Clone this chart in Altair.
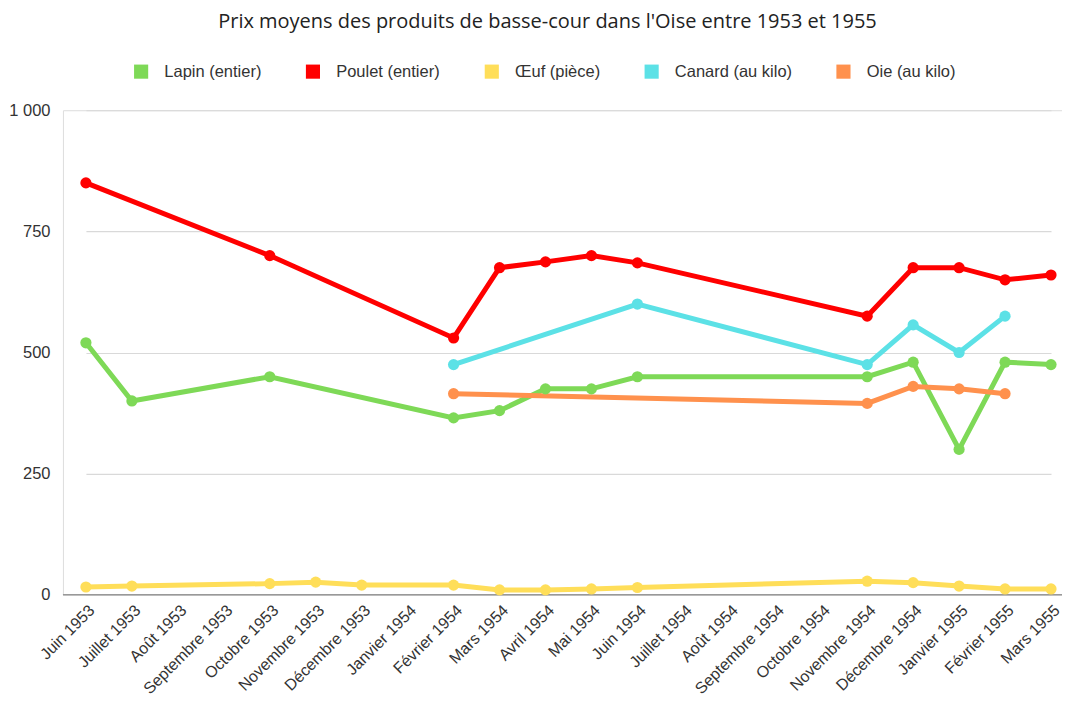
import altair as alt
import pandas as pd

months = ["Juin 1953", "Juillet 1953", "Août 1953", "Septembre 1953", "Octobre 1953",
          "Novembre 1953", "Décembre 1953", "Janvier 1954", "Février 1954", "Mars 1954",
          "Avril 1954", "Mai 1954", "Juin 1954", "Juillet 1954", "Août 1954",
          "Septembre 1954", "Octobre 1954", "Novembre 1954", "Décembre 1954",
          "Janvier 1955", "Février 1955", "Mars 1955"]

series_names = ["Lapin (entier)", "Poulet (entier)", "Œuf (pièce)", "Canard (au kilo)", "Oie (au kilo)"]
series_colors = ["#7ED957", "#FF0000", "#FFDE59", "#5CE1E6", "#FF914D"]

N = None
lapin = [520, 400, N, N, 450, N, N, N, 365, 380, 425, 425, 450, N, N, N, N, 450, 480, 300, 480, 475]
poulet = [850, N, N, N, 700, N, N, N, 530, 675, 687, 700, 685, N, N, N, N, 575, 675, 675, 650, 660]
oeuf = [16, 18, N, N, 23, 26, 20, N, 20, 10, 10, 12, 15, N, N, N, N, 28, 25, 18, 12, 12]
canard = [N, N, N, N, N, N, N, N, 475, N, N, N, 600, N, N, N, N, 475, 557, 500, 575, N]
oie = [N, N, N, N, N, N, N, N, 415, N, N, N, N, N, N, N, N, 395, 430, 425, 415, N]

rows = []
for name, vals in zip(series_names, [lapin, poulet, oeuf, canard, oie]):
    for m, v in zip(months, vals):
        if v is not None:
            rows.append({"mois": m, "serie": name, "prix": v})
df = pd.DataFrame(rows)

x_enc = alt.X("mois:N", sort=months,
              scale=alt.Scale(domain=months, range=[23, 989], padding=0),
              axis=alt.Axis(title=None, labelAngle=-45, labelAlign="right", labelBaseline="top",
                            labelFontSize=16, labelColor="#333333", labelFont="Liberation Sans",
                            domain=False, ticks=False, labelPadding=7, grid=False))
y_enc = alt.Y("prix:Q", scale=alt.Scale(domain=[0, 1000], nice=False),
              axis=alt.Axis(title=None, values=[0, 250, 500, 750, 1000],
                            labelExpr="replace(format(datum.value, ',d'), ',', ' ')",
                            labelFontSize=16.5, labelColor="#333333", labelFont="Liberation Sans",
                            domain=False, ticks=False, labelPadding=13,
                            gridColor="#d9d9d9", gridWidth=1.2))
color_scale = alt.Scale(domain=series_names, range=series_colors)
color_line = alt.Color("serie:N", scale=color_scale, legend=None)
color_pt = alt.Color("serie:N", scale=color_scale,
                     legend=alt.Legend(title=None, orient="none", direction="horizontal",
                                       legendX=70, legendY=-47, symbolType="square",
                                       symbolSize=200, labelFontSize=16.5, labelColor="#333333",
                                       labelFont="Liberation Sans", labelOffset=15,
                                       columnPadding=43, padding=0, symbolStrokeWidth=0,
                                       symbolOpacity=1))

base = alt.Chart(df)
lines = base.mark_line(strokeWidth=5).encode(x=x_enc, y=y_enc, color=color_line, detail="serie:N")
points = base.mark_circle(size=125, opacity=1).encode(x=x_enc, y=y_enc, color=color_pt)
zero = alt.Chart(pd.DataFrame({"v": [0]})).mark_rule(color="#999999", strokeWidth=1.5).encode(y="v:Q")

chart = alt.layer(zero, lines, points).resolve_legend(color="independent").properties(
    width=1000, height=485,
    title=alt.TitleParams("Prix moyens des produits de basse-cour dans l'Oise entre 1953 et 1955",
                          font="Open Sans", fontSize=20, fontWeight="normal", color="#222222",
                          anchor="middle", offset=31, dx=-15),
    autosize=alt.AutoSizeParams(type="none"),
    padding={"left": 55, "top": 102, "right": 0, "bottom": 100},
).configure_view(stroke=None).configure(background="white")

chart.save("out.html", embed_options={"renderer": "svg", "actions": False})
